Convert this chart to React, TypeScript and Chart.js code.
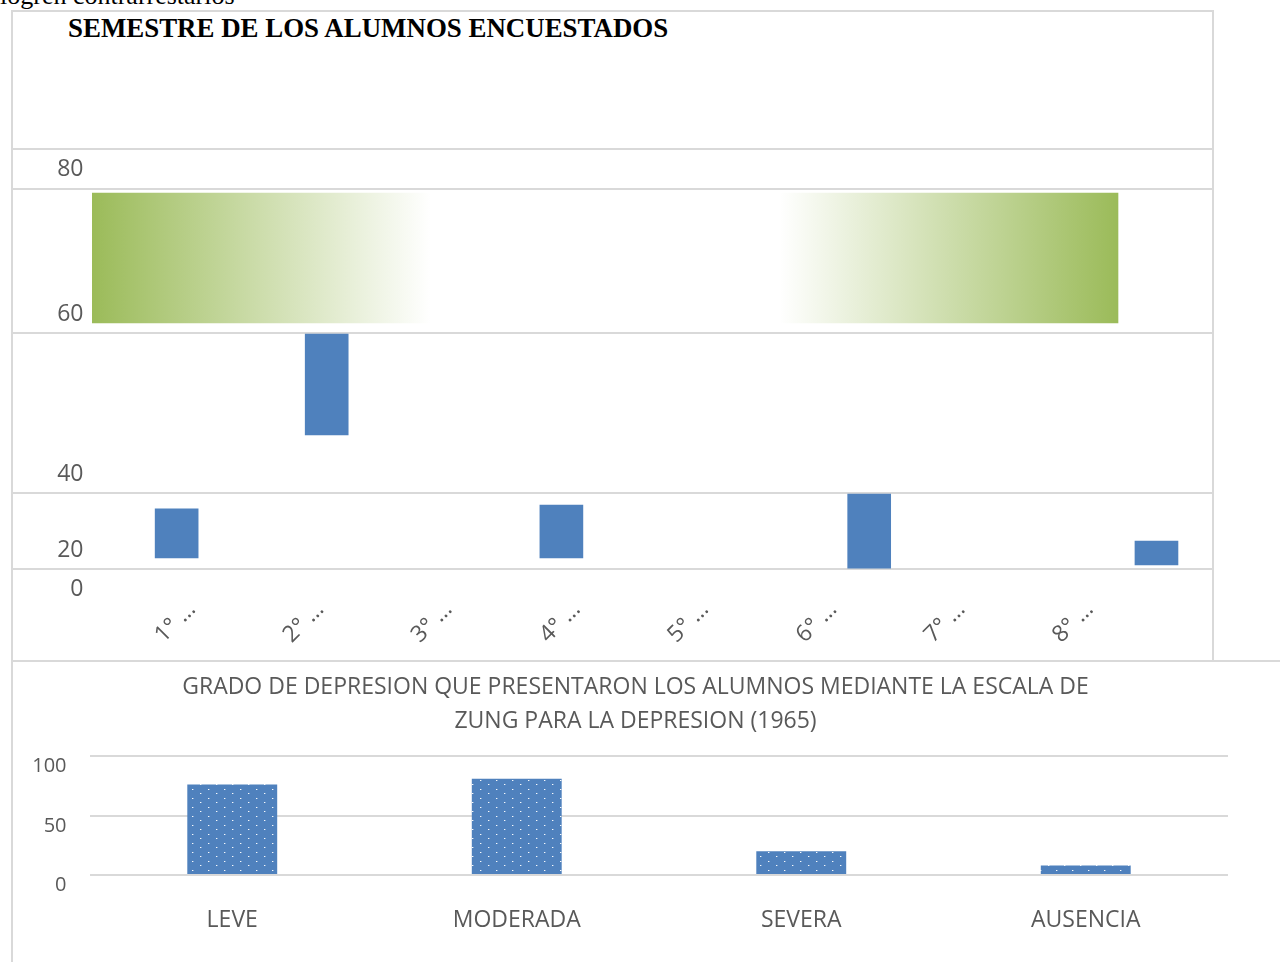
import React, { useEffect, useRef } from "react";
import { Chart, registerables } from "chart.js";

Chart.register(...registerables);
Chart.defaults.font.family = "'Open Sans'";

// ---------- page text ----------
const PAGE_TEXT = "logren contrarrestarlos";

// ---------- chart 1: semestre ----------
const SEMESTER_TITLE = "SEMESTRE DE LOS ALUMNOS ENCUESTADOS";
const SEMESTER_LABELS = ["1° …", "2° …", "3° …", "4° …", "5° …", "6° …", "7° …", "8° …"];
const SEMESTER_TICKS = [1, 2, 3, 4, 5, 6, 7, 8];
const SEMESTER_Y_TICKS = [0, 8.5, 25.05, 59.9, 91.3, 100];
const SEMESTER_Y_LABELS = ["0", "20", "40", "60", "80", ""];
const SEMESTER_BAR_X = [1.16, 2.33, 4.16, 6.56, 8.8];
const SEMESTER_BAR_LOW = [10.9, 37.7, 10.9, 8.7, 9.4];
const SEMESTER_BAR_HIGH = [21.6, 59.7, 22.4, 24.8, 14.6];
const BAND_X = [4.5];
const BAND_LOW = [62.1];
const BAND_HIGH = [90.4];

// ---------- chart 2: Zung ----------
const ZUNG_TITLE = [
  "GRADO DE DEPRESION QUE PRESENTARON LOS ALUMNOS MEDIANTE LA ESCALA DE",
  "ZUNG PARA LA DEPRESION (1965)",
];
const ZUNG_CATEGORIES = ["LEVE", "MODERADA", "SEVERA", "AUSENCIA"];
const ZUNG_VALUES = [76, 81, 20, 8];

const TEXT = "#595959";
const GRID = "#d9d9d9";
const BLUE = "#4f81bd";
const GREEN = "#9bbb59";
const BAND_WIDTH = 1026;

function SemesterChart() {
  const ref = useRef<HTMLCanvasElement | null>(null);
  useEffect(() => {
    const canvas = ref.current!;
    const chart = new Chart(canvas, {
      type: "bar",
      data: {
        datasets: [
          {
            data: BAND_X.map((x, i) => ({ x, y: [BAND_LOW[i], BAND_HIGH[i]] })) as any,
            backgroundColor: (c: any) => {
              const ch = c.chart;
              const xs = ch.scales.x;
              if (!xs || !ch.chartArea) return GREEN;
              const mid = xs.getPixelForValue(BAND_X[0]);
              const g = ch.ctx.createLinearGradient(mid - BAND_WIDTH / 2, 0, mid + BAND_WIDTH / 2, 0);
              g.addColorStop(0, GREEN);
              g.addColorStop(0.33, "#ffffff");
              g.addColorStop(0.67, "#ffffff");
              g.addColorStop(1, GREEN);
              return g;
            },
            barThickness: BAND_WIDTH,
            stack: "one",
          } as any,
          {
            data: SEMESTER_BAR_X.map((x, i) => ({ x, y: [SEMESTER_BAR_LOW[i], SEMESTER_BAR_HIGH[i]] })) as any,
            backgroundColor: BLUE,
            barThickness: 43,
            stack: "one",
          } as any,
        ],
      },
      options: {
        responsive: false,
        animation: false,
        layout: { padding: { top: 49, left: 0, right: 0, bottom: 0 } },
        plugins: {
          legend: { display: false },
          tooltip: { enabled: false },
          title: { display: false },
        },
        scales: {
          x: {
            type: "linear",
            min: 0.5,
            max: 9.233,
            offset: false,
            grid: { display: false, drawTicks: false },
            border: { display: false },
            afterBuildTicks: (s: any) => {
              s.ticks = SEMESTER_TICKS.map((v) => ({ value: v }));
            },
            afterFit: (s: any) => {
              s.height = 50;
            },
            ticks: {
              autoSkip: false,
              minRotation: 45,
              maxRotation: 45,
              labelOffset: 36,
              padding: -12,
              color: TEXT,
              font: { family: "'Open Sans'", size: 23 },
              callback: (_v: any, i: number) => SEMESTER_LABELS[i],
            },
          } as any,
          y: {
            type: "linear",
            min: 0,
            max: 100,
            stacked: false,
            afterBuildTicks: (s: any) => {
              s.ticks = SEMESTER_Y_TICKS.map((v) => ({ value: v }));
            },
            afterFit: (s: any) => {
              s.width = 79;
            },
            grid: {
              color: (c: any) => (c.tick && c.tick.value === 0 ? "rgba(0,0,0,0)" : GRID),
              lineWidth: 2,
              tickLength: 79,
              drawTicks: true,
            },
            border: { display: false },
            ticks: {
              padding: -70.5,
              labelOffset: -19,
              color: TEXT,
              font: { family: "'Open Sans'", size: 23 },
              callback: (_v: any, i: number) => SEMESTER_Y_LABELS[i],
            },
          } as any,
        },
      },
    });
    return () => chart.destroy();
  }, []);
  return (
    <canvas
      ref={ref}
      width={1199}
      height={558}
      style={{ position: "absolute", left: 13, top: 100, width: 1199, height: 558 }}
    />
  );
}

// lets the y tick labels spill left of the axis box (into the layout padding)
const widenYLabels = {
  id: "widenYLabels",
  afterLayout(chart: any) {
    if (chart.scales.y) chart.scales.y.left = 0;
  },
};

function ZungChart() {
  const ref = useRef<HTMLCanvasElement | null>(null);
  useEffect(() => {
    const canvas = ref.current!;
    const tile = document.createElement("canvas");
    tile.width = 16;
    tile.height = 9;
    const t = tile.getContext("2d")!;
    t.fillStyle = BLUE;
    t.fillRect(0, 0, 16, 9);
    t.fillStyle = "rgba(255,255,255,0.95)";
    t.fillRect(3, 1, 1, 1);
    t.fillRect(11, 5, 1, 1);
    t.fillStyle = "rgba(255,255,255,0.35)";
    t.fillRect(4, 1, 1, 1);
    t.fillRect(12, 5, 1, 1);
    const pattern = canvas.getContext("2d")!.createPattern(tile, "repeat")!;

    const chart = new Chart(canvas, {
      type: "bar",
      data: {
        labels: ZUNG_CATEGORIES,
        datasets: [
          {
            data: ZUNG_VALUES,
            backgroundColor: pattern as any,
            barPercentage: 0.316,
            categoryPercentage: 1,
          },
        ],
      },
      options: {
        responsive: false,
        animation: false,
        layout: { padding: { left: 30, right: 52, top: 0, bottom: 0 } },
        plugins: {
          legend: { display: false },
          tooltip: { enabled: false },
          title: {
            display: true,
            text: ZUNG_TITLE,
            color: TEXT,
            font: { family: "'Open Sans'", size: 23, weight: "normal", lineHeight: 1.48 },
            padding: { top: 8, bottom: 18 },
          },
        },
        scales: {
          x: {
            grid: { display: false, drawTicks: false },
            border: { display: false },
            afterFit: (s: any) => {
              s.height = 87;
            },
            ticks: {
              color: TEXT,
              padding: 32,
              font: { family: "'Open Sans'", size: 23 },
            },
          } as any,
          y: {
            min: 0,
            max: 100,
            afterFit: (s: any) => {
              s.width = 47;
            },
            grid: { color: GRID, lineWidth: 2, drawTicks: false },
            border: { display: false },
            ticks: {
              stepSize: 50,
              padding: 23.5,
              labelOffset: 10.5,
              color: TEXT,
              font: { family: "'Open Sans'", size: 20 },
            },
          } as any,
        },
      },
      plugins: [widenYLabels],
    });
    return () => chart.destroy();
  }, []);
  return (
    <canvas
      ref={ref}
      width={1267}
      height={300}
      style={{ position: "absolute", left: 13, top: 662, width: 1267, height: 300 }}
    />
  );
}

export default function App() {
  useEffect(() => {
    document.body.style.overflow = "hidden";
  }, []);
  return (
    <div
      style={{
        position: "absolute",
        left: 0,
        top: 0,
        width: 1280,
        height: 962,
        overflow: "hidden",
        background: "#fff",
      }}
    >
      <div
        style={{
          position: "absolute",
          left: 0,
          top: -17,
          font: "26px 'Liberation Serif'",
          lineHeight: "26px",
          whiteSpace: "nowrap",
          color: "#000",
        }}
      >
        {PAGE_TEXT}
      </div>
      <div
        style={{
          position: "absolute",
          left: 11,
          top: 10,
          width: 1203,
          height: 652,
          border: `2px solid ${GRID}`,
          boxSizing: "border-box",
        }}
      />
      <div
        style={{
          position: "absolute",
          left: 68,
          top: 15,
          font: "bold 26.9px 'Liberation Serif'",
          lineHeight: "26.9px",
          whiteSpace: "nowrap",
          color: "#000",
        }}
      >
        {SEMESTER_TITLE}
      </div>
      <SemesterChart />
      <div
        style={{
          position: "absolute",
          left: 11,
          top: 660,
          width: 1269,
          height: 302,
          borderTop: `2px solid ${GRID}`,
          borderLeft: `2px solid ${GRID}`,
          boxSizing: "border-box",
        }}
      />
      <ZungChart />
    </div>
  );
}
